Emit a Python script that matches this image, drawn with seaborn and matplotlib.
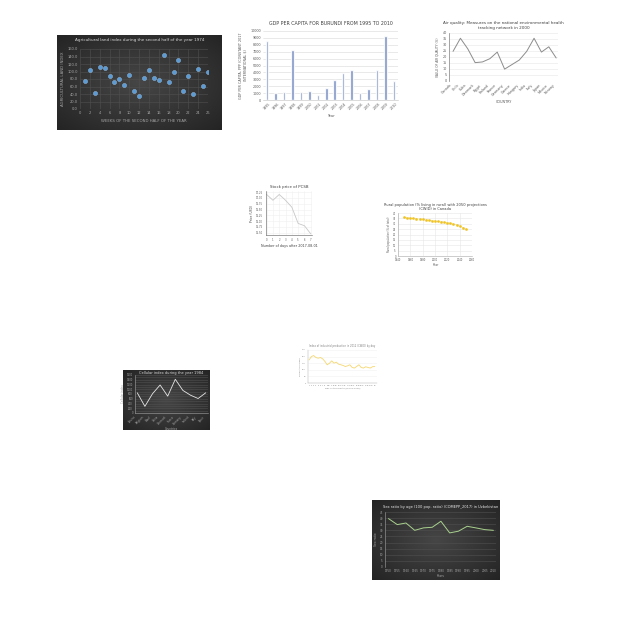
import numpy as np
import pandas as pd
import seaborn as sns
import matplotlib
matplotlib.use("Agg")
import matplotlib.pyplot as plt
from matplotlib.colors import LinearSegmentedColormap

# ---- data ----------------------------------------------------------------
agri_weeks = list(range(1, 27))
agri_index = [75, 103, 42, 113, 109, 88, 72, 80, 64, 91, 47, 34, 83,
              103, 83, 77, 144, 73, 98, 130, 47, 89, 39, 106, 61, 99]

gdp_years = [str(y) for y in range(1995, 2011)]
gdp_values = [8500, 1070, 1100, 7200, 1200, 1350, 730, 1700, 2960, 3900,
              4300, 1070, 1650, 4370, 9320, 2770]

air_countries = ["Canada", "Chile", "Cuba", "Denmark", "Egypt", "Finland",
                 "France", "Germany", "Greece", "Hungary", "India", "Italy",
                 "Japan", "Mexico", "Norway"]
air_values = [24.7, 35.6, 26.8, 15.3, 15.9, 18.6, 24.1, 9.9, 13.7, 17.5,
              24.7, 35.6, 24.1, 28.5, 19.2]

stock_days = [0, 1, 2, 3, 4, 5, 6, 7]
stock_price = [17.15, 16.9, 17.15, 16.9, 16.6, 15.9, 15.8, 15.45]

rural_years = list(range(1950, 2051, 5))
rural_values = [36.0, 35.6, 35.2, 34.9, 34.6, 34.3, 34.0, 33.7, 33.4, 33.0,
                32.6, 32.3, 32.0, 31.5, 31.0, 30.4, 29.7, 28.9, 27.8, 26.5,
                25.4]

cell_countries = ["Austria", "Belgium", "Brazil", "China", "Denmark",
                  "France", "Germany", "Ireland", "Italy", "Spain"]
cell_values = [850, 280, 810, 1180, 710, 1420, 950, 750, 610, 850]

ind_days = list(range(1, 31))
ind_values = [175, 200, 208, 193, 188, 193, 183, 163, 138, 150, 168, 150,
              158, 143, 138, 133, 125, 130, 138, 118, 113, 125, 138, 118,
              113, 123, 118, 113, 123, 125]

sex_years = [str(y) for y in range(1950, 2011, 5)]
sex_ratio = [39.6, 34.7, 36.0, 30.0, 32.0, 32.5, 37.4, 27.9, 29.3, 33.3,
             32.0, 30.6, 30.0]

# ---- helpers -------------------------------------------------------------
sns.set_theme(style="white")
plt.rcParams['font.family'] = ['DejaVu Sans']

fig = plt.figure(figsize=(6.4, 6.4), dpi=100)
fig.patch.set_facecolor("white")

dark_cmap = LinearSegmentedColormap.from_list("dk", ["#242424", "#464646"])


def px(x0, y0, x1, y1):
    return [x0 / 640, 1 - y1 / 640, (x1 - x0) / 640, (y1 - y0) / 640]


def dark_panel(x0, y0, x1, y1):
    ax = fig.add_axes(px(x0, y0, x1, y1), zorder=0)
    gx, gy = np.meshgrid(np.linspace(-1, 1, 200), np.linspace(-1, 1, 200))
    r = np.clip(np.sqrt(gx ** 2 + gy ** 2) / 1.414, 0, 1)
    ax.imshow(1 - r, cmap=dark_cmap, vmin=0, vmax=1, aspect="auto",
              extent=[0, 1, 0, 1])
    ax.axis("off")
    return ax


def style(ax, tick_color, grid_color, size=2.6, grid_axis="both"):
    ax.tick_params(colors=tick_color, labelsize=size, length=0, pad=1.5)
    ax.grid(True, axis=grid_axis, color=grid_color, lw=0.4)
    for s in ax.spines.values():
        s.set_visible(False)
    ax.set_facecolor("none")


def show_spine(ax, sides, color, lw=0.4):
    for side in sides:
        ax.spines[side].set_visible(True)
        ax.spines[side].set_color(color)
        ax.spines[side].set_linewidth(lw)


# ---- 1: agricultural land index (dark scatter) --------------------------
dark_panel(57, 35, 222, 130)
ax1 = fig.add_axes(px(80, 49, 208, 109), zorder=1)
sns.scatterplot(x=agri_weeks, y=agri_index, ax=ax1, s=9, color="#5b9bd5",
                edgecolor="#9dc3e6", linewidth=0.3, zorder=3)
ax1.set_xlim(0, 26)
ax1.set_ylim(0, 160)
ax1.set_xticks(range(0, 27, 2))
ax1.set_yticks(range(0, 161, 20))
ax1.set_yticklabels([f"{v:.1f}" for v in range(0, 161, 20)])
style(ax1, "#a6a6a6", "#505050")
ax1.set_xlabel("WEEKS OF THE SECOND HALF OF THE YEAR", fontsize=2.8,
               color="#a6a6a6", labelpad=3)
ax1.set_ylabel("AGRICULTURAL LAND INDEX", fontsize=2.8, color="#a6a6a6",
               labelpad=2)
fig.text(140 / 640, 1 - 40 / 640,
         "Agricultural land index during the second half of the year 1974",
         ha="center", va="center", fontsize=3, color="#d9d9d9")

# ---- 2: GDP per capita Burundi (bars) -----------------------------------
ax2 = fig.add_axes(px(263, 31, 398, 100))
sns.barplot(x=gdp_years, y=gdp_values, ax=ax2, color="#6f86c0", width=0.3,
            saturation=1, alpha=0.85)
ax2.set_ylim(0, 10000)
ax2.set_yticks(range(0, 10001, 1000))
style(ax2, "#595959", "#d9d9d9", size=2.4, grid_axis="y")
show_spine(ax2, ["bottom"], "#bfbfbf")
ax2.tick_params(axis="x", rotation=45)
ax2.set_xlabel("Year", fontsize=2.6, color="#595959", labelpad=2)
ax2.set_ylabel("GDP PER CAPITA, PPP (CONSTANT 2017\nINTERNATIONAL $)",
               fontsize=2.4, color="#595959", labelpad=2)
ax2.set_title("GDP PER CAPITA FOR BURUNDI FROM 1995 TO 2010", fontsize=3.4,
              color="#404040", pad=4)

# ---- 3: Air quality (line) -----------------------------------------------
ax3 = fig.add_axes(px(449, 33, 558, 81))
sns.lineplot(x=list(range(len(air_countries))), y=air_values, ax=ax3,
             color="#8c8c8c", lw=0.7)
ax3.set_xlim(-0.55, 14.25)
ax3.set_ylim(0, 40)
ax3.set_yticks(range(0, 41, 5))
ax3.set_xticks(range(len(air_countries)))
ax3.set_xticklabels(air_countries, rotation=45, ha="right")
style(ax3, "#595959", "#e6e6e6", size=2.4, grid_axis="y")
show_spine(ax3, ["left"], "#808080", 0.5)
ax3.set_xlabel("COUNTRY", fontsize=2.4, color="#595959", labelpad=2)
ax3.set_ylabel("VALUE OF AIR QUALITY (%)", fontsize=2.2, color="#595959",
               labelpad=2)
ax3.set_title("Air quality: Measures on the national environmental health\n"
              "tracking network in 2000", fontsize=3, color="#404040", pad=3)

# ---- 4: Stock price of PCSB ------------------------------------------------
ax4 = fig.add_axes(px(266, 191, 312, 235))
sns.lineplot(x=stock_days, y=stock_price, ax=ax4, color="#c8c8c8", lw=0.6)
ax4.set_xlim(-0.1, 7.2)
ax4.set_ylim(15.4, 17.3)
ax4.set_xticks(stock_days)
ax4.set_yticks([15.5, 15.75, 16.0, 16.25, 16.5, 16.75, 17.0, 17.25])
style(ax4, "#595959", "#f0f0f0", size=1.8)
ax4.tick_params(length=1, width=0.3)
show_spine(ax4, ["left", "bottom"], "#595959")
ax4.set_xlabel("Number of days after 2017-08-01", fontsize=2.4,
               color="#404040", labelpad=1)
ax4.set_ylabel("Price (USD)", fontsize=2.2, color="#404040", labelpad=1)
ax4.set_title("Stock price of PCSB", fontsize=2.8, color="#404040", pad=2)

# ---- 5: Rural population Canada (dashed markers) -------------------------
ax5 = fig.add_axes(px(398, 213, 472, 256))
sns.lineplot(x=rural_years, y=rural_values, ax=ax5, color="#f7e08a", lw=0.5,
             linestyle="--", marker="o", markersize=1.6,
             markerfacecolor="#f2c418", markeredgecolor="#e6b400",
             markeredgewidth=0.2)
ax5.set_xlim(1940, 2060)
ax5.set_ylim(0, 40)
ax5.set_xticks(range(1940, 2061, 20))
ax5.set_yticks(range(0, 41, 5))
style(ax5, "#595959", "#e6e6e6", size=1.8)
show_spine(ax5, ["left", "bottom"], "#a6a6a6")
ax5.set_xlabel("Year", fontsize=2.2, color="#595959", labelpad=1)
ax5.set_ylabel("Rural population (% of total)", fontsize=1.8,
               color="#595959", labelpad=1)
ax5.set_title("Rural population (% living in rural) with 2050 projections\n"
              "(CWID) in Canada", fontsize=2.6, color="#404040", pad=2)

# ---- 6: Cellular index (dark line) --------------------------------------
dark_panel(123, 370, 210, 430)
ax6 = fig.add_axes(px(135, 375, 208, 413), zorder=1)
sns.lineplot(x=list(range(len(cell_countries))), y=cell_values, ax=ax6,
             color="#e6e6e6", lw=0.6)
ax6.set_xlim(-0.3, 9.3)
ax6.set_ylim(0, 1600)
ax6.set_yticks(range(0, 1601, 100))
ax6.set_yticklabels([str(v) if v % 200 == 0 else "" for v in
                     range(0, 1601, 100)])
ax6.set_xticks(range(len(cell_countries)))
ax6.set_xticklabels(cell_countries, rotation=45, ha="right")
style(ax6, "#a6a6a6", "#505050", size=1.8, grid_axis="y")
show_spine(ax6, ["left", "bottom"], "#a6a6a6")
ax6.set_xlabel("Countries", fontsize=2, color="#a6a6a6", labelpad=1)
ax6.set_ylabel("Cellular index", fontsize=2, color="#a6a6a6", labelpad=1)
ax6.set_title("Cellular index during the year 1984", fontsize=2.6,
              color="#d9d9d9", pad=1)

# ---- 7: Industrial index (yellow line) ----------------------------------
ax7 = fig.add_axes(px(308, 350, 377, 383))
sns.lineplot(x=ind_days, y=ind_values, ax=ax7, color="#f5d76e", lw=0.6)
ax7.set_xlim(0.5, 31)
ax7.set_ylim(0, 250)
ax7.set_xticks(ind_days)
ax7.set_yticks(range(0, 251, 50))
style(ax7, "#7f7f7f", "#f2f2f2", size=1.4, grid_axis="y")
show_spine(ax7, ["left", "bottom"], "#a6a6a6", 0.3)
ax7.set_xlabel("Day of the month (March 2012)", fontsize=1.6,
               color="#7f7f7f", labelpad=1)
ax7.set_ylabel("Production index", fontsize=1.6, color="#7f7f7f",
               labelpad=1)
ax7.set_title("Index of industrial production in 2012 (CWID) by day",
              fontsize=1.8, color="#7f7f7f", pad=2)

# ---- 8: Sex ratio Uzbekistan (dark line) --------------------------------
dark_panel(372, 500, 500, 580)
ax8 = fig.add_axes(px(385, 512, 496, 567), zorder=1)
sns.lineplot(x=list(range(len(sex_years))), y=sex_ratio, ax=ax8,
             color="#a9d18e", lw=0.7)
ax8.set_xlim(-0.4, 12.3)
ax8.set_ylim(0, 45)
ax8.set_yticks(range(0, 46, 5))
ax8.set_xticks(range(len(sex_years)))
ax8.set_xticklabels(sex_years)
style(ax8, "#a6a6a6", "#505050", size=2, grid_axis="y")
show_spine(ax8, ["left"], "#a6a6a6")
ax8.set_xlabel("Years", fontsize=2.2, color="#a6a6a6", labelpad=1)
ax8.set_ylabel("Sex ratio", fontsize=2.2, color="#a6a6a6", labelpad=1)
ax8.set_title("Sex ratio by age (100 pop. ratio) (COMEPP_2017) in Uzbekistan",
              fontsize=2.6, color="#e6e6e6", pad=3)

fig.savefig("out.png", dpi=100, facecolor="white")
